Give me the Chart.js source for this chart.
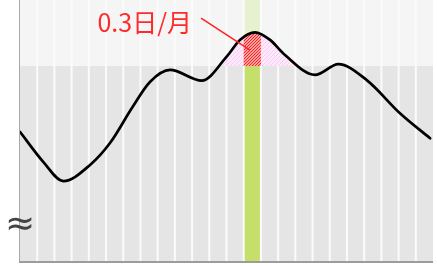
<!DOCTYPE html>
<html><head><meta charset="utf-8">
<script src="https://cdn.jsdelivr.net/npm/chart.js@4/dist/chart.umd.min.js"></script>
<style>html,body{margin:0;padding:0;background:#fff}#wrap{width:437px;height:266px}</style>
</head><body><div id="wrap"><canvas id="c" width="437" height="266"></canvas></div>
<script>
// ---- data ----
const columnCount = 24;
const highlightColumn = 13;
const threshold = 74.7;
const curveX = [0, 1.35, 2.52, 4.07, 5.23, 6.54, 7.55, 8.72, 10.56, 12.01, 12.78, 13.66, 14.53, 15.40, 17.14, 18.50, 20.15, 22.08, 23.83];
const curveY = [49.5, 38.0, 30.6, 36.8, 45.2, 59.0, 68.6, 73.2, 69.1, 78.3, 84.7, 87.6, 84.7, 78.9, 71.3, 75.4, 69.3, 56.6, 47.0];
const annotationText = '0.3日/月';
const annotationTextPos = [4.5, 87.9];
const annotationLineFrom = [10.52, 93.1];
const annotationLineTo = [13.37, 80.8];
const breakSymbol = '≈';
const breakSymbolValue = 13.6;

const canvas = document.getElementById('c');
const ctx0 = canvas.getContext('2d');
function hatch(bg, fg, size) {
  const c = document.createElement('canvas'); c.width = c.height = size;
  const g = c.getContext('2d');
  g.fillStyle = bg; g.fillRect(0, 0, size, size);
  g.strokeStyle = fg; g.lineWidth = 1;
  g.beginPath();
  g.moveTo(0, size); g.lineTo(size, 0);
  g.moveTo(-1, 1); g.lineTo(1, -1);
  g.moveTo(size - 1, size + 1); g.lineTo(size + 1, size - 1);
  g.stroke();
  return ctx0.createPattern(c, 'repeat');
}
const pinkPattern = hatch('#fde9fb', '#f7cdf1', 4);
const redPattern = hatch('#ffa0a0', '#ff2020', 3);

const decor = {
  id: 'decor',
  beforeDatasetsDraw(chart) {
    const {ctx, chartArea: a, scales: {x, y}} = chart;
    const ty = y.getPixelForValue(threshold);
    ctx.save();
    ctx.fillStyle = '#f5f5f5'; ctx.fillRect(a.left, a.top, a.right - a.left, ty - a.top);
    ctx.fillStyle = '#e5e5e5'; ctx.fillRect(a.left, ty, a.right - a.left, a.bottom - ty);
    const gx0 = x.getPixelForValue(highlightColumn), gx1 = x.getPixelForValue(highlightColumn + 1);
    ctx.fillStyle = '#e6f2cf'; ctx.fillRect(gx0, a.top, gx1 - gx0, ty - a.top);
    ctx.fillStyle = '#c4df6a'; ctx.fillRect(gx0, ty, gx1 - gx0, a.bottom - ty);
    ctx.strokeStyle = '#fbfbfb'; ctx.lineWidth = 2;
    for (let i = 1; i < columnCount; i++) {
      const px = x.getPixelForValue(i);
      ctx.beginPath(); ctx.moveTo(px, a.top); ctx.lineTo(px, a.bottom); ctx.stroke();
    }
    const meta = chart.getDatasetMeta(0);
    const line = meta.dataset;
    line.updateControlPoints(a, 'x');
    const pts = meta.data;
    const areaPath = () => {
      ctx.beginPath(); line.path(ctx);
      ctx.lineTo(pts[pts.length - 1].x, a.bottom); ctx.lineTo(pts[0].x, a.bottom); ctx.closePath();
    };
    ctx.save();
    ctx.beginPath(); ctx.rect(a.left, a.top, a.right - a.left, ty - a.top); ctx.clip();
    areaPath(); ctx.fillStyle = pinkPattern; ctx.fill();
    ctx.beginPath(); ctx.rect(gx0, a.top, gx1 - gx0, ty - a.top); ctx.clip();
    areaPath(); ctx.fillStyle = redPattern; ctx.fill();
    ctx.restore();
    ctx.restore();
  },
  afterDatasetsDraw(chart) {
    const {ctx, chartArea: a, scales: {x, y}} = chart;
    ctx.save();
    ctx.strokeStyle = '#ff2020'; ctx.lineWidth = 1.5;
    ctx.beginPath();
    ctx.moveTo(x.getPixelForValue(annotationLineFrom[0]), y.getPixelForValue(annotationLineFrom[1]));
    ctx.lineTo(x.getPixelForValue(annotationLineTo[0]), y.getPixelForValue(annotationLineTo[1]));
    ctx.stroke();
    ctx.fillStyle = '#ff2a2a';
    ctx.font = '25px "Noto Sans CJK JP"';
    ctx.textBaseline = 'alphabetic'; ctx.textAlign = 'left';
    ctx.fillText(annotationText, x.getPixelForValue(annotationTextPos[0]), y.getPixelForValue(annotationTextPos[1]));
    // axes
    ctx.fillStyle = '#a8a8a8'; ctx.fillRect(a.left - 1, a.top, 1, a.bottom - a.top);
    ctx.fillStyle = '#9c9c9c'; ctx.fillRect(a.left - 1, a.bottom, a.right - a.left + 1, 2);
    ctx.fillStyle = '#444';
    ctx.font = '36px "DejaVu Sans"';
    ctx.textAlign = 'center'; ctx.textBaseline = 'middle';
    ctx.fillText(breakSymbol, a.left, y.getPixelForValue(breakSymbolValue));
    ctx.restore();
  }
};

new Chart(canvas, {
  type: 'line',
  data: { datasets: [{
    data: curveX.map((v, i) => ({x: v, y: curveY[i]})),
    borderColor: '#000', borderWidth: 2.7, pointRadius: 0,
    cubicInterpolationMode: 'monotone', fill: false, borderCapStyle: 'round'
  }]},
  options: {
    responsive: false, animation: false, events: [],
    layout: { padding: { left: 20, right: 4, top: 0, bottom: 5 } },
    scales: {
      x: { type: 'linear', min: 0, max: columnCount, display: false },
      y: { min: 0, max: 100, display: false }
    },
    plugins: { legend: { display: false }, tooltip: { enabled: false } }
  },
  plugins: [decor]
});
</script></body></html>
